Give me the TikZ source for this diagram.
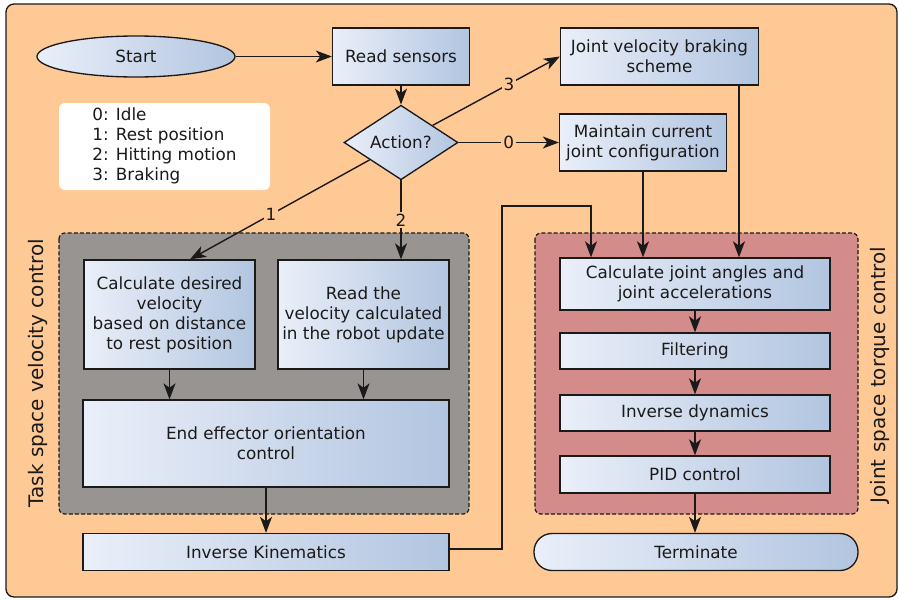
\documentclass[tikz,border=0pt]{standalone}
\usepackage{fontspec}
\setmainfont{DejaVu Sans}
\usetikzlibrary{shapes.geometric,arrows.meta,calc}

\definecolor{peach}{RGB}{255,201,150}
\definecolor{taskgray}{RGB}{152,148,146}
\definecolor{jointred}{RGB}{211,140,138}
\definecolor{boxlight}{RGB}{234,239,249}
\definecolor{boxdark}{RGB}{178,197,224}
\definecolor{ink}{RGB}{26,26,26}

\tikzset{
  sz/.style 2 args={minimum width=#1*0.75pt, minimum height=#2*0.75pt},
  base/.style={draw=ink, line width=1pt, inner sep=0pt, align=center,
    left color=boxlight, right color=boxdark, text=ink,
    font=\fontsize{12.6}{15}\selectfont},
  stepbox/.style={base, rectangle},
  termbox/.style={base, rectangle, rounded corners=13.5pt},
  startbox/.style={base, ellipse},
  decide/.style={base, diamond},
  group/.style={draw=ink, line width=0.9pt, dash pattern=on 3pt off 1.6pt,
    rounded corners=4.5pt},
  arr/.style={draw=ink, line width=1.05pt,
    -{Stealth[length=12pt,width=9pt,inset=3.3pt]}},
  elabel/.style={fill=peach, inner sep=1.5pt, text=ink,
    font=\fontsize{12.6}{15}\selectfont},
  sidelabel/.style={rotate=90, text=ink, font=\fontsize{15}{18}\selectfont},
}

\begin{document}
\begin{tikzpicture}[x=0.75pt, y=-0.75pt]
\useasboundingbox (0,0) rectangle (899,600);

% background panel
\draw[draw=ink, line width=1pt, fill=peach, rounded corners=6pt] (6,4) rectangle (897,597);

% grouping panels
\draw[group, fill=taskgray] (59,233) rectangle (469,514);
\draw[group, fill=jointred] (535,233) rectangle (858,514);

% group titles
\node[sidelabel] (tasklbl) at (38,373) {Task space velocity control};
\node[sidelabel] (jointlbl) at (880,375) {Joint space torque control};

% legend of the action codes
\node[fill=white, rounded corners=4.5pt, sz={211}{87}, inner sep=0pt,
      text=ink, font=\fontsize{12.6}{15}\selectfont] (legend) at (164.5,146.5)
  {\begin{tabular}{@{}l@{}}0: Idle\\1: Rest position\\2: Hitting motion\\3: Braking\end{tabular}};

% nodes
\node[startbox, sz={198}{41}] (start) at (136,56.5) {Start};
\node[stepbox, sz={137}{57}] (read) at (401,56.5) {Read sensors};
\node[decide, sz={114}{57}] (act) at (401,142.5) {Action?};
\node[stepbox, sz={198}{57}] (brake) at (659.5,56.5) {Joint velocity braking\\scheme};
\node[stepbox, sz={167}{57}] (keep) at (643,142.5) {Maintain current\\joint configuration};

\node[stepbox, sz={171}{109}] (calc) at (169.5,314.5)
  {Calculate desired\\velocity\\based on distance\\to rest position};
\node[stepbox, sz={171}{109}] (readv) at (363.5,314.5)
  {Read the\\velocity calculated\\in the robot update};
\node[stepbox, sz={366}{87}] (eeo) at (266,443.5) {End effector orientation\\control};
\node[stepbox, sz={366}{37}] (ik) at (266,552) {Inverse Kinematics};

\node[stepbox, sz={270}{52}] (angles) at (695,284) {Calculate joint angles and\\joint accelerations};
\node[stepbox, sz={270}{36}] (filt) at (695,351) {Filtering};
\node[stepbox, sz={270}{36}] (invd) at (695,413) {Inverse dynamics};
\node[stepbox, sz={270}{37}] (pid) at (695,474.5) {PID control};
\node[termbox, sz={324}{37}] (term) at (696,552) {Terminate};

% connectors
\draw[arr] (start) -- (read);
\draw[arr] (read) -- (act);
\draw[arr] (act) -- node[elabel, pos=0.6] (l3) {3} (brake.west);
\draw[arr] (act) -- node[elabel] (l0) {0} (keep.west);
\coordinate (c1in) at ($(calc.north)+(20.5,0)$);
\draw[arr] (act) -- node[elabel, pos=0.55] (l1) {1} (c1in);
\draw[arr] (act.south) -- node[elabel] (l2) {2} (act.south |- readv.north);

\draw[arr] (calc.south) -- (calc.south |- eeo.north);
\draw[arr] (readv.south) -- (readv.south |- eeo.north);
\draw[arr] (eeo.south) -- (ik.north);

\coordinate (bkout) at ($(brake.south)+(79.5,0)$);
\draw[arr] (keep.south) -- (keep.south |- angles.north);
\draw[arr] (bkout) -- (bkout |- angles.north);
\coordinate (ikturn) at (502,206);
\coordinate (angin) at ($(angles.north)+(-104,0)$);
\draw[arr] ([yshift=2.25pt]ik.east) -| (ikturn) -| (angin);

\draw[arr] (angles) -- (filt);
\draw[arr] (filt) -- (invd);
\draw[arr] (invd) -- (pid);
\draw[arr] (pid.south) -- (pid.south |- term.north);
\end{tikzpicture}
\end{document}
